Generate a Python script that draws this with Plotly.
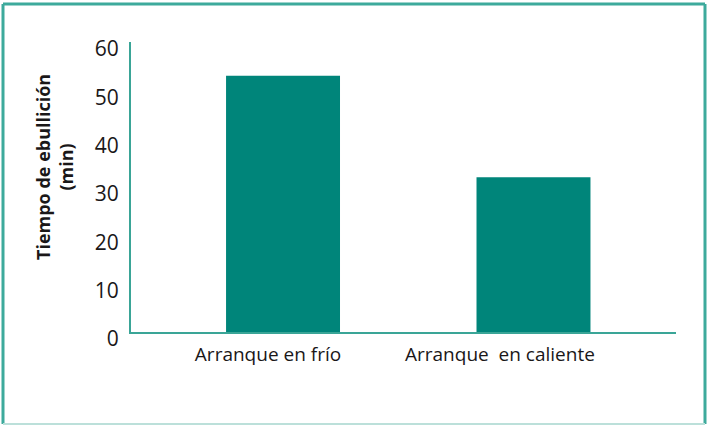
import plotly.graph_objects as go

# Boiling time by start mode
categories = ["Arranque en frío", "Arranque\u00a0 en caliente"]
minutes = [53, 32]
x_pos = [0, 1]
label_pos = [-0.06, 0.866]
y_ticks = [0, 10, 20, 30, 40, 50, 60]

TEAL = "#00857A"
LINE = "#3AA597"
FONT = "Open Sans, Liberation Sans, sans-serif"

W, H = 707, 426
L, R, T, B = 131, 31, 42, 94
pw, ph = W - L - R, H - T - B


def px_x(p):
    return (p - L) / pw


def px_y(p):
    return (H - B - p) / ph


fig = go.Figure(
    go.Bar(
        x=x_pos,
        y=minutes,
        width=0.455,
        marker=dict(color=TEAL, line=dict(width=0)),
        hoverinfo="skip",
    )
)

fig.update_layout(
    width=W,
    height=H,
    margin=dict(l=L, r=R, t=T, b=B, pad=0),
    paper_bgcolor="white",
    plot_bgcolor="white",
    showlegend=False,
    font=dict(family=FONT, color="#1A1718"),
    xaxis=dict(
        range=[-0.607, 1.569],
        tickmode="array",
        tickvals=label_pos,
        ticktext=categories,
        ticks="",
        showgrid=False,
        zeroline=False,
        showline=True,
        linecolor=LINE,
        linewidth=2,
        tickfont=dict(size=19, family=FONT, color="#1A1718"),
        ticklabelstandoff=4,
    ),
    yaxis=dict(
        range=[0, 60],
        tickmode="array",
        tickvals=y_ticks,
        ticks="",
        showgrid=False,
        zeroline=False,
        showline=True,
        linecolor=LINE,
        linewidth=2,
        tickfont=dict(size=21, family=FONT, color="#1A1718"),
        ticklabelstandoff=6,
        ticklabelshift=7,
    ),
    annotations=[
        dict(
            text="<b>Tiempo de ebullición<br>(min)</b>",
            xref="paper",
            yref="paper",
            x=px_x(54),
            y=px_y(167),
            xanchor="center",
            yanchor="middle",
            textangle=-90,
            showarrow=False,
            font=dict(size=18, family=FONT, color="#1A1718"),
        )
    ],
    shapes=[
        # frame around the whole figure
        dict(type="line", xref="paper", yref="paper",
             x0=px_x(3), x1=px_x(705), y0=px_y(4), y1=px_y(4),
             line=dict(color="#3DAA9C", width=3)),
        dict(type="line", xref="paper", yref="paper",
             x0=px_x(3), x1=px_x(3), y0=px_y(4), y1=px_y(424),
             line=dict(color="#3DAA9C", width=3)),
        dict(type="line", xref="paper", yref="paper",
             x0=px_x(705), x1=px_x(705), y0=px_y(4), y1=px_y(424),
             line=dict(color="#3DAA9C", width=3)),
        dict(type="line", xref="paper", yref="paper",
             x0=px_x(3), x1=px_x(705), y0=px_y(424), y1=px_y(424),
             line=dict(color="#BCE0DA", width=2)),
    ],
)

fig.write_html("out.html", config={"displayModeBar": False})
